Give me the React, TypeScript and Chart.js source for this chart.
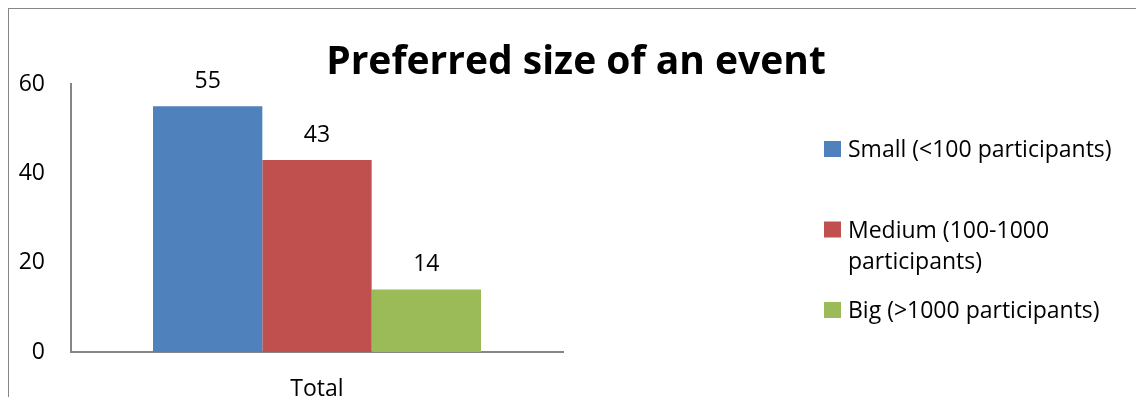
import React, { useEffect, useRef } from 'react';
import { Chart, registerables } from 'chart.js';

Chart.register(...registerables);

const TITLE = 'Preferred size of an event';
const CATEGORIES = ['Total'];
const SERIES_LABELS = [
  'Small (<100 participants)',
  'Medium (100-1000 participants)',
  'Big (>1000 participants)',
];
const SMALL = [55];
const MEDIUM = [43];
const BIG = [14];
const SERIES_VALUES = [SMALL, MEDIUM, BIG];
const SERIES_COLORS = ['#4F81BD', '#C0504D', '#9BBB59'];
const Y_MIN = 0;
const Y_MAX = 60;
const Y_STEP = 20;

const FONT = '"Open Sans", sans-serif';
const AXIS_COLOR = '#868686';

function wrapText(ctx: CanvasRenderingContext2D, text: string, maxWidth: number): string[] {
  const words = text.split(' ');
  const lines: string[] = [];
  let cur = '';
  for (const w of words) {
    const test = cur ? cur + ' ' + w : w;
    if (ctx.measureText(test).width > maxWidth && cur) {
      lines.push(cur);
      cur = w;
    } else {
      cur = test;
    }
  }
  if (cur) lines.push(cur);
  return lines;
}

const decorPlugin = {
  id: 'excelDecor',
  afterDatasetsDraw(chart: any) {
    const ctx: CanvasRenderingContext2D = chart.ctx;
    ctx.save();
    // data labels
    ctx.fillStyle = '#000';
    ctx.font = `23px ${FONT}`;
    ctx.textAlign = 'center';
    ctx.textBaseline = 'alphabetic';
    chart.data.datasets.forEach((ds: any, di: number) => {
      const meta = chart.getDatasetMeta(di);
      meta.data.forEach((bar: any, i: number) => {
        ctx.fillText(String(ds.data[i]), bar.x, bar.y - 18);
      });
    });
    // title
    ctx.font = `bold 39px ${FONT}`;
    ctx.fillText(TITLE, chart.width / 2 + 1, 65);
    // legend
    ctx.textAlign = 'left';
    ctx.font = `23px ${FONT}`;
    chart.data.datasets.forEach((ds: any, di: number) => {
      const base = 148 + di * 80.5;
      ctx.fillStyle = ds.backgroundColor;
      ctx.fillRect(815, base - 16, 17, 16);
      ctx.fillStyle = '#000';
      const lines = wrapText(ctx, ds.label, 285);
      lines.forEach((ln, li) => ctx.fillText(ln, 839, base + li * 31));
    });
    ctx.restore();
  },
};

export default function App() {
  const canvasRef = useRef<HTMLCanvasElement | null>(null);

  useEffect(() => {
    document.documentElement.style.overflow = 'hidden';
    document.body.style.overflow = 'hidden';
    const canvas = canvasRef.current;
    if (!canvas) return;
    const chart = new Chart(canvas, {
      type: 'bar',
      data: {
        labels: CATEGORIES,
        datasets: SERIES_LABELS.map((label, i) => ({
          label,
          data: SERIES_VALUES[i],
          backgroundColor: SERIES_COLORS[i],
          borderWidth: 0,
          barPercentage: 1,
          categoryPercentage: 2 / 3,
        })),
      },
      options: {
        responsive: false,
        animation: false,
        devicePixelRatio: 1,
        layout: { padding: { left: 0, top: 75, right: 578, bottom: 0 } },
        plugins: {
          legend: { display: false },
          title: { display: false },
          tooltip: { enabled: false },
        },
        scales: {
          x: {
            grid: { display: false, drawTicks: false },
            border: { display: true, color: AXIS_COLOR, width: 2 },
            ticks: { color: '#000', font: { family: FONT, size: 23 }, padding: 24 },
            afterFit: (s: any) => {
              s.height = 57;
            },
          },
          y: {
            min: Y_MIN,
            max: Y_MAX,
            grid: { display: false, drawTicks: false },
            border: { display: true, color: AXIS_COLOR, width: 2 },
            ticks: { stepSize: Y_STEP, color: '#000', font: { family: FONT, size: 23 }, padding: 26 },
            afterFit: (s: any) => {
              s.width = 62;
            },
          },
        },
      },
      plugins: [decorPlugin],
    });
    if ((document as any).fonts) {
      (document as any).fonts.load(`23px ${FONT}`).then(() => chart.update());
      (document as any).fonts.load(`bold 39px ${FONT}`).then(() => chart.update());
    }
    return () => chart.destroy();
  }, []);

  return (
    <div style={{ width: 1132, height: 400, border: `1px solid ${AXIS_COLOR}`, background: '#fff' }}>
      <canvas ref={canvasRef} width={1132} height={400} style={{ display: 'block', width: 1132, height: 400 }} />
    </div>
  );
}
